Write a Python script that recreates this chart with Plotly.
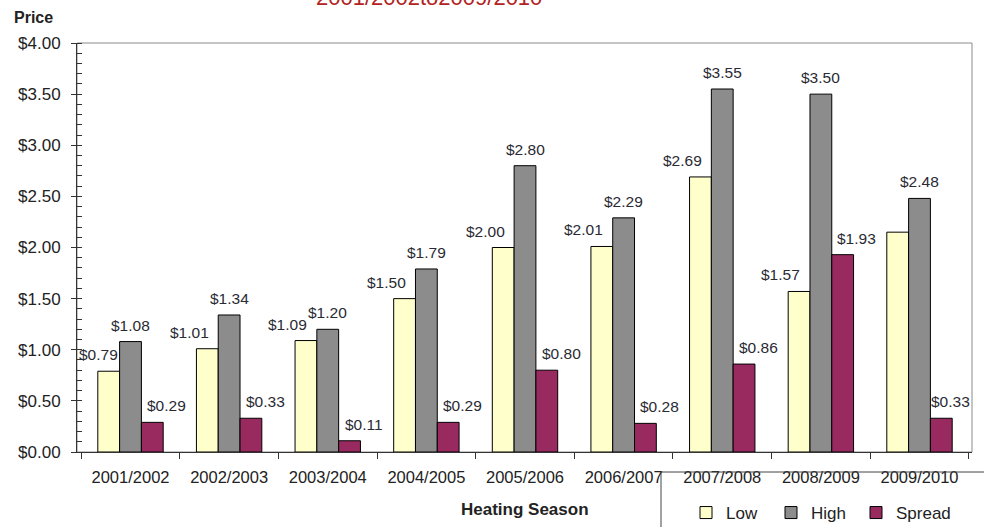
import plotly.graph_objects as go

seasons = ["2001/2002", "2002/2003", "2003/2004", "2004/2005", "2005/2006",
           "2006/2007", "2007/2008", "2008/2009", "2009/2010"]
low = [0.79, 1.01, 1.09, 1.50, 2.00, 2.01, 2.69, 1.57, 2.15]
high = [1.08, 1.34, 1.20, 1.79, 2.80, 2.29, 3.55, 3.50, 2.48]
spread = [0.29, 0.33, 0.11, 0.29, 0.80, 0.28, 0.86, 1.93, 0.33]
low_labeled = [True, True, True, True, True, True, True, True, False]
y_ticks = [0, 0.5, 1.0, 1.5, 2.0, 2.5, 3.0, 3.5, 4.0]

FONT = "Liberation Sans, Arial, sans-serif"
colors = {"Low": "#FFFFCC", "High": "#8C8C8C", "Spread": "#982A60"}
legend_widths = {"Low": 40, "High": 40, "Spread": 70}

W, H = 984, 527
ML, MR, MT, MB = 77, 12, 43, 75
PW, PH = W - ML - MR, H - MT - MB

fig = go.Figure()
for name, vals in [("Low", low), ("High", high), ("Spread", spread)]:
    fig.add_trace(go.Bar(
        name=name, x=seasons, y=vals,
        marker=dict(color=colors[name], line=dict(color="#000000", width=1)),
        legendwidth=legend_widths[name],
        hoverinfo="x+y",
    ))

# data labels
shift = {"Low": -40, "High": 0, "Spread": 36}
special = {("Low", 0): -32, ("Spread", 8): 31}
annotations = []
for name, vals in [("Low", low), ("High", high), ("Spread", spread)]:
    for i, (s, v) in enumerate(zip(seasons, vals)):
        if name == "Low" and not low_labeled[i]:
            continue
        annotations.append(dict(
            x=s, y=v, xref="x", yref="y", text="${:.2f}".format(v),
            showarrow=False, xanchor="center", yanchor="bottom",
            xshift=special.get((name, i), shift[name]), yshift=6,
            font=dict(family=FONT, size=15.5, color="#2a2a33"),
        ))

def py(pix):
    return (H - MB - pix) / PH

def px(pix):
    return (pix - ML) / PW

annotations += [
    dict(text="2001/2002to2009/2010", xref="paper", yref="paper",
         x=px(429), y=py(12), xanchor="center", yanchor="bottom", showarrow=False,
         font=dict(family=FONT, size=22, color="#B22222")),
    dict(text="<b>Price</b>", xref="paper", yref="paper",
         x=px(33), y=py(17), xanchor="center", yanchor="middle", showarrow=False,
         font=dict(family=FONT, size=16, color="#222222")),
    dict(text="<b>Heating Season</b>", xref="paper", yref="paper",
         x=0.5, y=py(509), xanchor="center", yanchor="middle", showarrow=False,
         font=dict(family=FONT, size=17, color="#222222")),
]

shapes = [
    # plot frame
    dict(type="rect", xref="paper", yref="paper", x0=0, x1=1, y0=0, y1=1,
         line=dict(color="#8a8a8a", width=1), layer="below"),
    # legend border box
    dict(type="rect", xref="paper", yref="paper", x0=px(661), x1=px(995),
         y0=py(472), y1=py(540), line=dict(color="#444444", width=1)),
]

fig.update_layout(
    width=W, height=H,
    margin=dict(l=ML, r=MR, t=MT, b=MB, pad=0, autoexpand=False),
    paper_bgcolor="white", plot_bgcolor="white",
    barmode="group", bargap=0.337, bargroupgap=0,
    font=dict(family=FONT, color="#222222"),
    showlegend=True,
    legend=dict(orientation="h", x=px(686), y=py(495), xanchor="left", yanchor="top",
                font=dict(family=FONT, size=17, color="#222222"),
                bgcolor="rgba(0,0,0,0)", borderwidth=0,
                entrywidthmode="pixels", traceorder="normal"),
    annotations=annotations,
    shapes=shapes,
    xaxis=dict(type="category", showline=True, linecolor="#333333", linewidth=1,
               ticks="outside", tickson="boundaries", ticklen=6, tickcolor="#333333",
               tickfont=dict(family=FONT, size=16.5, color="#222222"),
               ticklabelstandoff=10, showgrid=False, zeroline=False, fixedrange=True,
               automargin=False),
    yaxis=dict(range=[0, 4], tickvals=y_ticks,
               ticktext=["${:.2f}".format(t) for t in y_ticks],
               showline=True, linecolor="#333333", linewidth=1,
               ticks="outside", ticklen=5, tickcolor="#333333",
               minor=dict(dtick=0.1, ticks="inside", ticklen=5, tickcolor="#333333"),
               tickfont=dict(family=FONT, size=17, color="#222222"),
               ticklabelstandoff=7, showgrid=False, zeroline=False, fixedrange=True,
               automargin=False),
)

fig.write_html("out.html", config={"displayModeBar": False},
               post_script="document.body.style.margin='0';document.body.style.overflow='hidden';")
